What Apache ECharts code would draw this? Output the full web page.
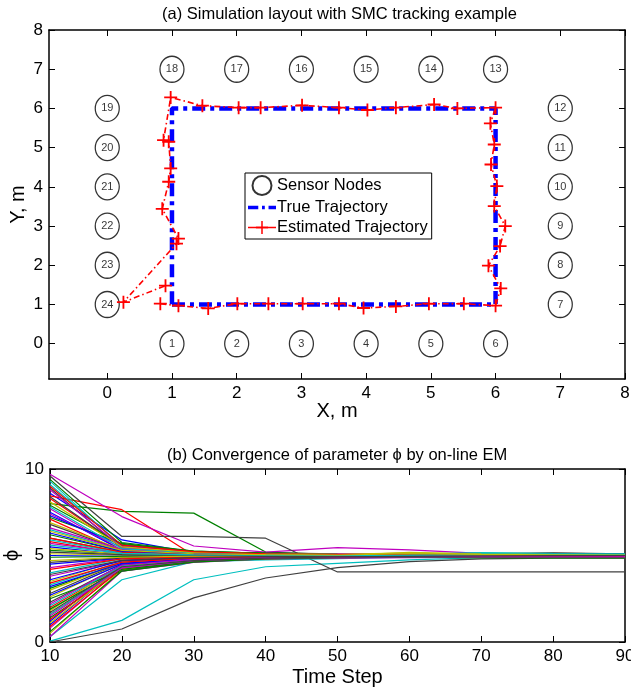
<!DOCTYPE html>
<html>
<head>
<meta charset="utf-8">
<script src="https://cdn.jsdelivr.net/npm/echarts@6/dist/echarts.min.js"></script>
<style>
  html, body { margin: 0; padding: 0; background: #fff; }
  #chart { width: 631px; height: 692px; }
</style>
</head>
<body>
<div id="chart"></div>
<script>
// sensor layout, m
const sensorId = [1, 2, 3, 4, 5, 6, 7, 8, 9, 10, 11, 12, 13, 14, 15, 16, 17, 18, 19, 20, 21, 22, 23, 24]
const sensorX = [1, 2, 3, 4, 5, 6, 7, 7, 7, 7, 7, 7, 6, 5, 4, 3, 2, 1, 0, 0, 0, 0, 0, 0]
const sensorY = [0, 0, 0, 0, 0, 0, 1, 2, 3, 4, 5, 6, 7, 7, 7, 7, 7, 7, 6, 5, 4, 3, 2, 1]

// true path (rectangle) and SMC estimate
const trueX = [1, 6, 6, 1, 1]
const trueY = [1, 1, 6, 6, 1]
const estX = [0.82, 1.10, 1.56, 2.01, 2.49, 3.02, 3.58, 3.96, 4.46, 4.97, 5.51, 6.00,
  6.08, 5.89, 6.07, 6.15, 5.98, 6.02, 5.93, 5.98, 5.92, 6.00,
  5.41, 5.05, 4.46, 4.02, 3.58, 3.01, 2.37, 2.03, 1.47, 0.98,
  0.87, 0.95, 0.98, 0.95, 0.85, 1.10, 1.07, 0.25, 0.90]
const estY = [1.02, 0.97, 0.90, 1.02, 1.02, 1.02, 1.02, 0.91, 0.95, 1.02, 1.02, 0.97,
  1.41, 1.99, 2.49, 3.00, 3.51, 4.02, 4.57, 5.08, 5.62, 6.02,
  6.00, 6.10, 6.02, 5.96, 6.02, 6.08, 6.02, 6.02, 6.07, 6.28,
  5.19, 5.15, 4.47, 4.13, 3.44, 2.68, 2.55, 1.06, 1.48]
const layoutTicks = [0, 1, 2, 3, 4, 5, 6, 7, 8]

// on-line EM: phi estimate of every run at each time step
const timeSteps = [10, 20, 30, 40, 50, 60, 70, 80, 90]
const phiTicks = [0, 5, 10]
const phiRuns = [
  [8.6, 5.9, 5.15, 5.05, 5.02, 5.0, 5.0, 5.02, 5.0],
  [8.0, 7.55, 7.45, 5.2, 5.05, 5.0, 4.98, 4.96, 4.95],
  [8.45, 7.65, 5.0, 4.98, 4.97, 4.96, 4.95, 4.95, 4.95],
  [0.05, 1.25, 3.6, 4.35, 4.55, 4.75, 4.88, 4.9, 4.92],
  [9.7, 7.25, 5.55, 5.2, 5.45, 5.32, 5.12, 5.05, 5.02],
  [5.1, 5.02, 5.0, 5.0, 5.0, 5.18, 5.08, 5.05, 5.05],
  [9.6, 6.1, 6.1, 6.0, 4.05, 4.05, 4.05, 4.05, 4.05],
  [1.2, 4.5, 4.8, 4.9, 4.95, 4.97, 5.0, 5.0, 5.0],
  [3.1, 4.6, 4.85, 4.92, 4.95, 4.95, 4.93, 4.92, 4.92],
  [5.8, 5.1, 5.05, 5.02, 5.0, 5.0, 4.98, 4.98, 4.98],
  [0.3, 3.6, 4.65, 4.75, 4.82, 4.9, 5.12, 5.08, 5.05],
  [7.7, 5.3, 5.1, 5.05, 5.05, 5.02, 5.0, 5.0, 5.0],
  [3.5, 4.75, 4.9, 4.95, 4.97, 4.97, 4.96, 4.96, 4.96],
  [0.0, 0.75, 2.55, 3.7, 4.3, 4.65, 4.8, 4.85, 4.85],
  [7.5, 5.3, 5.1, 5.05, 5.03, 5.02, 5.02, 5.03, 5.03],
  [1.4, 4.15, 4.65, 4.85, 4.92, 4.92, 4.9, 4.88, 4.88],
  [2.0, 4.35, 4.75, 4.85, 4.9, 4.93, 4.93, 4.93, 4.94],
  [9.3, 5.5, 5.15, 5.05, 5.05, 5.08, 5.15, 5.1, 5.08],
  [0.8, 4.3, 4.7, 4.85, 4.9, 4.92, 4.9, 4.9, 4.9],
  [2.6, 4.55, 4.8, 4.9, 4.95, 5.1, 5.05, 5.03, 5.02],
  [8.9, 5.4, 5.2, 5.15, 5.1, 5.08, 5.1, 5.15, 5.1],
  [1.0, 4.4, 4.75, 4.88, 4.95, 4.98, 5.0, 5.02, 5.05],
  [7.2, 5.7, 5.2, 5.1, 5.05, 5.02, 5.0, 4.98, 4.97],
  [7.1, 5.25, 5.1, 5.05, 5.03, 5.0, 4.98, 4.97, 4.96],
  [6.5, 5.3, 5.08, 5.05, 5.02, 5.0, 5.0, 5.0, 5.0],
  [4.3, 4.85, 4.95, 4.98, 4.98, 4.97, 4.95, 4.93, 4.92],
  [1.8, 4.5, 4.8, 4.9, 4.93, 4.97, 5.0, 5.0, 5.0],
  [2.8, 4.6, 4.85, 4.92, 4.95, 4.96, 4.98, 5.0, 5.0],
  [4.5, 4.85, 4.95, 4.98, 5.0, 5.0, 5.0, 5.02, 5.02],
  [6.2, 5.25, 5.1, 5.05, 5.02, 5.0, 4.98, 4.95, 4.93],
  [1.6, 4.3, 4.7, 4.85, 4.9, 4.92, 4.92, 4.92, 4.92],
  [3.3, 4.65, 4.85, 4.92, 4.95, 5.0, 5.05, 5.05, 5.05],
  [5.7, 5.15, 5.05, 5.02, 5.0, 4.98, 4.95, 4.93, 4.92],
  [0.5, 4.2, 4.65, 4.8, 4.88, 4.92, 4.95, 4.97, 4.98],
  [6.0, 5.2, 5.05, 5.02, 5.0, 5.0, 5.0, 5.0, 5.0],
  [5.0, 4.95, 4.97, 4.98, 5.0, 5.0, 5.02, 5.02, 5.03],
  [5.3, 5.1, 5.03, 5.0, 4.98, 4.95, 4.92, 4.9, 4.9],
  [8.3, 5.5, 5.2, 5.1, 5.05, 5.02, 5.0, 4.98, 4.98],
  [4.0, 4.8, 4.92, 4.95, 4.97, 4.98, 5.0, 5.02, 5.03],
  [3.8, 4.7, 4.88, 4.93, 4.95, 4.96, 4.97, 4.98, 4.98],
  [6.9, 5.35, 5.12, 5.08, 5.05, 5.1, 5.02, 5.0, 5.0],
  [2.3, 4.45, 4.75, 4.88, 4.93, 4.95, 4.97, 4.98, 5.0],
  [5.5, 5.05, 5.0, 4.98, 4.97, 4.97, 4.97, 4.98, 4.98],
  [2.5, 4.1, 4.7, 4.85, 4.9, 4.9, 4.88, 4.87, 4.87],
  [0.9, 4.25, 4.68, 4.82, 4.88, 4.9, 4.92, 4.93, 4.93],
  [9.1, 5.6, 5.2, 5.1, 5.05, 5.05, 5.15, 5.12, 5.1],
  [7.4, 5.45, 5.15, 5.08, 5.05, 5.03, 5.0, 4.98, 4.97],
  [3.0, 4.6, 4.82, 4.9, 4.94, 4.98, 5.0, 5.02, 5.02],
  [6.8, 5.3, 5.1, 5.05, 5.02, 5.02, 5.02, 5.05, 5.08],
  [3.2, 4.55, 4.8, 4.9, 4.95, 4.98, 5.0, 5.02, 5.03],
  [4.9, 4.95, 4.98, 4.98, 4.97, 4.95, 4.93, 4.92, 4.92],
  [1.3, 4.3, 4.72, 4.85, 4.9, 4.92, 4.93, 4.94, 4.95],
  [5.9, 5.15, 5.05, 5.02, 5.0, 5.0, 5.05, 5.08, 5.06],
  [0.3, 4.1, 4.6, 4.8, 4.85, 4.88, 4.9, 4.9, 4.9],
  [5.4, 5.08, 5.02, 5.0, 5.0, 5.12, 5.06, 5.04, 5.04],
  [8.4, 5.5, 5.2, 5.12, 5.08, 5.06, 5.08, 5.12, 5.1],
  [7.3, 5.6, 5.2, 5.1, 5.05, 5.02, 5.02, 5.02, 5.02],
  [1.9, 4.2, 4.68, 4.85, 4.9, 4.9, 4.88, 4.88, 4.88],
  [6.0, 5.2, 5.08, 5.03, 5.0, 4.98, 4.97, 4.96, 4.96],
  [2.1, 4.4, 4.75, 4.88, 4.92, 4.97, 5.02, 5.04, 5.04],
  [6.6, 5.35, 5.12, 5.06, 5.1, 5.08, 5.03, 5.0, 4.98],
  [1.1, 4.35, 4.72, 4.85, 4.92, 4.98, 5.0, 5.0, 5.0],
  [4.6, 4.88, 4.95, 4.98, 5.0, 5.0, 5.0, 5.0, 5.02],
  [3.6, 4.7, 4.88, 4.93, 4.96, 4.98, 5.0, 5.02, 5.02],
  [7.9, 5.65, 5.25, 5.12, 5.05, 5.0, 4.97, 4.95, 4.93],
  [4.2, 4.8, 4.93, 4.96, 4.97, 4.97, 4.97, 4.97, 4.97],
  [1.6, 4.3, 4.72, 4.85, 4.92, 4.98, 5.05, 5.06, 5.06],
  [8.8, 5.5, 5.2, 5.1, 5.08, 5.1, 5.04, 5.01, 5.0],
  [4.7, 4.9, 4.96, 4.98, 5.0, 5.08, 5.05, 5.04, 5.04],
  [5.2, 5.05, 5.02, 5.0, 5.0, 5.0, 5.0, 5.02, 5.05],
  [2.7, 4.5, 4.78, 4.88, 4.94, 4.98, 5.0, 5.02, 5.02],
  [9.4, 5.75, 5.25, 5.12, 5.06, 5.02, 4.98, 4.95, 4.93],
  [3.4, 4.62, 4.85, 4.92, 4.95, 4.95, 4.95, 4.95, 4.95],
  [7.8, 5.4, 5.15, 5.08, 5.05, 5.05, 5.12, 5.1, 5.08],
  [2.2, 4.45, 4.78, 4.88, 4.92, 4.94, 4.94, 4.94, 4.94],
  [8.1, 5.5, 5.18, 5.1, 5.06, 5.15, 5.08, 5.05, 5.04],
  [3.9, 4.72, 4.88, 4.94, 4.96, 4.98, 5.0, 5.02, 5.05],
  [6.3, 5.25, 5.1, 5.05, 5.03, 5.03, 5.03, 5.03, 5.03],
  [0.6, 4.1, 4.62, 4.8, 4.88, 4.9, 4.9, 4.9, 4.9],
  [9.0, 5.6, 5.22, 5.1, 5.05, 5.02, 5.0, 4.98, 4.97],
  [5.6, 5.12, 5.04, 5.02, 5.0, 5.0, 5.04, 5.06, 5.06],
  [1.5, 4.28, 4.7, 4.85, 4.9, 4.92, 4.92, 4.92, 4.92],
  [6.4, 5.3, 5.1, 5.05, 5.03, 5.1, 5.06, 5.04, 5.03],
  [1.7, 4.35, 4.7, 4.85, 4.92, 4.95, 4.97, 4.99, 5.0]
]
// matlab default line colour order
const runColors = ['#0000ff', '#008000', '#ff0000', '#00bfbf', '#bf00bf', '#bfbf00', '#404040']

const font = 'Liberation Sans, Arial, Helvetica, sans-serif'
const plusIcon = 'path://M0,4.3H10V5.7H0Z M4.3,0H5.7V10H4.3Z'
// legend glyphs: thick dash-dot, and a line with a plus
const dashIcon = 'path://M0,0H11V4H0Z M15,0H18V4H15Z M22,0H30V4H22Z'
const plusLineIcon = 'path://M0,6.2H30V7.8H0Z M14.2,0H15.8V14H14.2Z M8.5,6H21.5V8H8.5Z'

let myChart = echarts.init(document.getElementById('chart'))

let boxAxis = function (pos, gridIndex, min, max, ticks) {
  return {
    type: 'value', gridIndex: gridIndex, position: pos, min: min, max: max,
    axisLine: {show: true, onZero: false, lineStyle: {color: '#000', width: 1.5}},
    axisTick: {show: true, inside: true, length: 6, customValues: ticks, lineStyle: {color: '#000', width: 1}},
    axisLabel: {show: false, customValues: ticks},
    splitLine: {show: false}
  }
}

let mainAxis = function (pos, gridIndex, min, max, ticks, name, gap) {
  let ax = boxAxis(pos, gridIndex, min, max, ticks)
  ax.axisLabel = {show: true, customValues: ticks, color: '#000', fontSize: 17, fontFamily: font, margin: 6}
  ax.name = name
  ax.nameLocation = 'middle'
  ax.nameGap = gap
  ax.nameMoveOverlap = false
  ax.nameTextStyle = {color: '#000', fontSize: 20, fontFamily: font}
  return ax
}

let series = [
  {
    name: 'Sensor Nodes',
    type: 'scatter',
    xAxisIndex: 0, yAxisIndex: 0,
    data: sensorX.map((x, i) => [x, sensorY[i], sensorId[i]]),
    symbol: 'circle',
    symbolSize: [24, 26],
    itemStyle: {color: '#fff', borderColor: '#000', borderWidth: 1.3},
    label: {show: true, position: 'inside', formatter: p => p.value[2], color: '#000', fontSize: 11, fontFamily: font},
    z: 2
  },
  {
    name: 'True Trajectory',
    type: 'line',
    xAxisIndex: 0, yAxisIndex: 0,
    data: trueX.map((x, i) => [x, trueY[i]]),
    showSymbol: false,
    symbol: 'none',
    lineStyle: {color: '#0000ff', width: 4.5, type: [13, 5, 4, 5]},
    itemStyle: {color: '#0000ff'},
    z: 3
  },
  {
    name: 'Estimated Trajectory',
    type: 'line',
    xAxisIndex: 0, yAxisIndex: 0,
    data: estX.map((x, i) => [x, estY[i]]),
    symbol: plusIcon,
    symbolSize: 13,
    itemStyle: {color: '#ff0000', borderWidth: 0},
    lineStyle: {color: '#ff0000', width: 1.6, type: [6, 3, 1.5, 3]},
    z: 4
  }
]

phiRuns.forEach(function (run, i) {
  series.push({
    type: 'line',
    xAxisIndex: 2, yAxisIndex: 2,
    data: timeSteps.map((t, j) => [t, run[j]]),
    symbol: 'none',
    lineStyle: {color: runColors[i % 7], width: 1.2},
    itemStyle: {color: runColors[i % 7]}
  })
})

let option = {
  animation: false,
  backgroundColor: '#fff',
  title: [
    {text: '(a) Simulation layout with SMC tracking example', left: 157, top: 1,
      textStyle: {fontSize: 16.5, fontWeight: 'normal', color: '#000', fontFamily: font}},
    {text: '(b) Convergence of parameter \u03d5 by on-line EM', left: 162, top: 442,
      textStyle: {fontSize: 16.5, fontWeight: 'normal', color: '#000', fontFamily: font}}
  ],
  legend: {
    data: [
      {name: 'Sensor Nodes'},
      {name: 'True Trajectory', icon: dashIcon},
      {name: 'Estimated Trajectory', icon: plusLineIcon}
    ],
    orient: 'vertical',
    left: 245, top: 173,
    itemWidth: 28, itemHeight: 19, itemGap: 3,
    padding: [2, 4, 3, 3],
    borderColor: '#000', borderWidth: 1,
    backgroundColor: '#fff',
    textStyle: {fontSize: 16.5, color: '#000', fontFamily: font, padding: [0, 0, 0, -4]}
  },
  grid: [
    {left: 49, right: 6, top: 30, bottom: 313, outerBoundsMode: 'none'},
    {left: 50, right: 6, top: 469, bottom: 50, outerBoundsMode: 'none'}
  ],
  xAxis: [
    mainAxis('bottom', 0, -0.9, 8, layoutTicks, 'X, m', 22),
    boxAxis('top', 0, -0.9, 8, layoutTicks),
    mainAxis('bottom', 1, 10, 90, timeSteps, 'Time Step', 25),
    boxAxis('top', 1, 10, 90, timeSteps)
  ],
  yAxis: [
    mainAxis('left', 0, -0.9, 8, layoutTicks, 'Y, m', 21),
    boxAxis('right', 0, -0.9, 8, layoutTicks),
    mainAxis('left', 1, 0, 10, phiTicks, '\u03d5', 28),
    boxAxis('right', 1, 0, 10, phiTicks)
  ],
  series: series
}
myChart.setOption(option)
</script>
</body>
</html>
